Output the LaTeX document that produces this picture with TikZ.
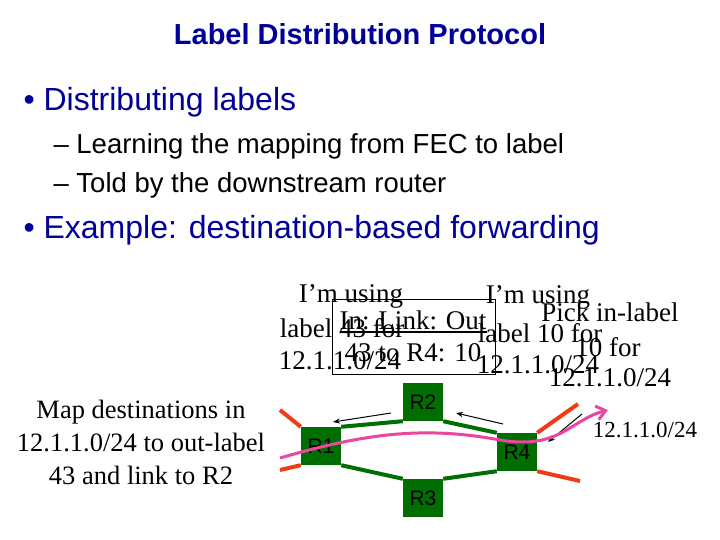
\documentclass[tikz,border=0pt]{standalone}
\usepackage{fontspec}
\setmainfont{Liberation Serif}
\newfontfamily\sans{Liberation Sans}
\usetikzlibrary{arrows.meta}
\definecolor{tblue}{RGB}{0,0,153}
\definecolor{rgreen}{RGB}{0,110,0}
\definecolor{rred}{RGB}{240,60,20}
\definecolor{pink}{RGB}{235,70,160}
\begin{document}
\begin{tikzpicture}[x=1pt,y=-1pt,
 sl/.style={font=\fontsize{27}{29}\selectfont,inner sep=0pt},
 rtr/.style={fill=rgreen,minimum width=40pt,minimum height=38pt,inner sep=0pt,font=\sans\fontsize{21}{22}\selectfont},
 glink/.style={rgreen,line width=4pt},
 rlink/.style={rred,line width=4pt},
 sarr/.style={-{Stealth[length=7pt]},line width=1pt}]
\useasboundingbox (0,0) rectangle (720,540);
\node[font=\sans\bfseries\fontsize{29}{31}\selectfont,text=tblue] (title) at (360,34) {Label Distribution Protocol};
\node[anchor=west,font=\sans\fontsize{32}{34}\selectfont,text=tblue] (b1) at (20,102) {\textbullet\ Distributing labels};
\node[anchor=west,font=\sans\fontsize{27.5}{29}\selectfont] (s1) at (50,146) {\textendash\ Learning the mapping from FEC to label};
\node[anchor=west,font=\sans\fontsize{27.5}{29}\selectfont] (s2) at (50,185) {\textendash\ Told by the downstream router};
\node[anchor=west,font=\sans\fontsize{32}{34}\selectfont,text=tblue] (b2) at (20,230) {\textbullet\ Example: destination-based forwarding};
\node[font=\fontsize{26.5}{33}\selectfont,align=center] (map) at (141,442) {Map destinations in\\12.1.1.0/24 to out-label\\43 and link to R2};
\coordinate (e1) at (280,410); \coordinate (e2) at (280,470);
\coordinate (e3) at (578,404); \coordinate (e4) at (580,481);
\node[rtr] (R1) at (321,446) {R1};
\node[rtr] (R2) at (423,402) {R2};
\node[rtr] (R3) at (423,498) {R3};
\node[rtr] (R4) at (517,452) {R4};
\draw[rlink] (e1) -- (R1.north west);
\draw[rlink] (e2) -- (R1.south west);
\draw[rlink] (R4.north east) -- (e3);
\draw[rlink] (R4.south east) -- (e4);
\draw[glink] (R1.north east) -- (R2.south west);
\draw[glink] (R2.south east) -- (R4.north west);
\draw[glink] (R1.south east) -- (R3.north west);
\draw[glink] (R3.north east) -- (R4.south west);
\coordinate (a1) at (391,413); \coordinate (a2) at (333,422);
\coordinate (a3) at (503,424); \coordinate (a4) at (456,413);
\coordinate (a5) at (582,414); \coordinate (a6) at (548,442);
\draw[sarr] (a1) -- (a2);
\draw[sarr] (a3) -- (a4);
\draw[sarr] (a5) -- (a6);
\coordinate (p0) at (280,458); \coordinate (p1) at (608,410);
\draw[pink,line width=3pt,-{Straight Barb[length=9pt,width=14pt]}] (p0) .. controls (360,435) and (420,425) .. (500,440) .. controls (560,450) and (570,420) .. (p1);
\node[sl] (t1) at (351,296) {I’m using};
\node[sl] (t2) at (342,328) {label 43 for};
\node[sl] (t3) at (340,361) {12.1.1.0/24};
\node[draw,thick,minimum width=163pt,minimum height=75pt,inner sep=0pt] (box) at (413.5,336.5) {};
\node[sl] (b1t) at (413,320) {In: Link: Out};
\coordinate (u1) at (340,332); \coordinate (u2) at (487,332);
\draw[line width=1.5pt] (u1) -- (u2);
\node[sl] (b2t) at (413,353) {43 to R4: 10};
\node[sl] (t4) at (538,297) {I’m using};
\node[sl] (t5) at (540,333) {label 10 for};
\node[sl] (t6) at (538,365) {12.1.1.0/24};
\node[sl] (t7) at (610,312) {Pick in-label};
\node[sl] (t8) at (608,347) {10 for};
\node[sl] (t9) at (610,378) {12.1.1.0/24};
\node[font=\fontsize{23}{25}\selectfont] (t10) at (645,430) {12.1.1.0/24};
\end{tikzpicture}
\end{document}
